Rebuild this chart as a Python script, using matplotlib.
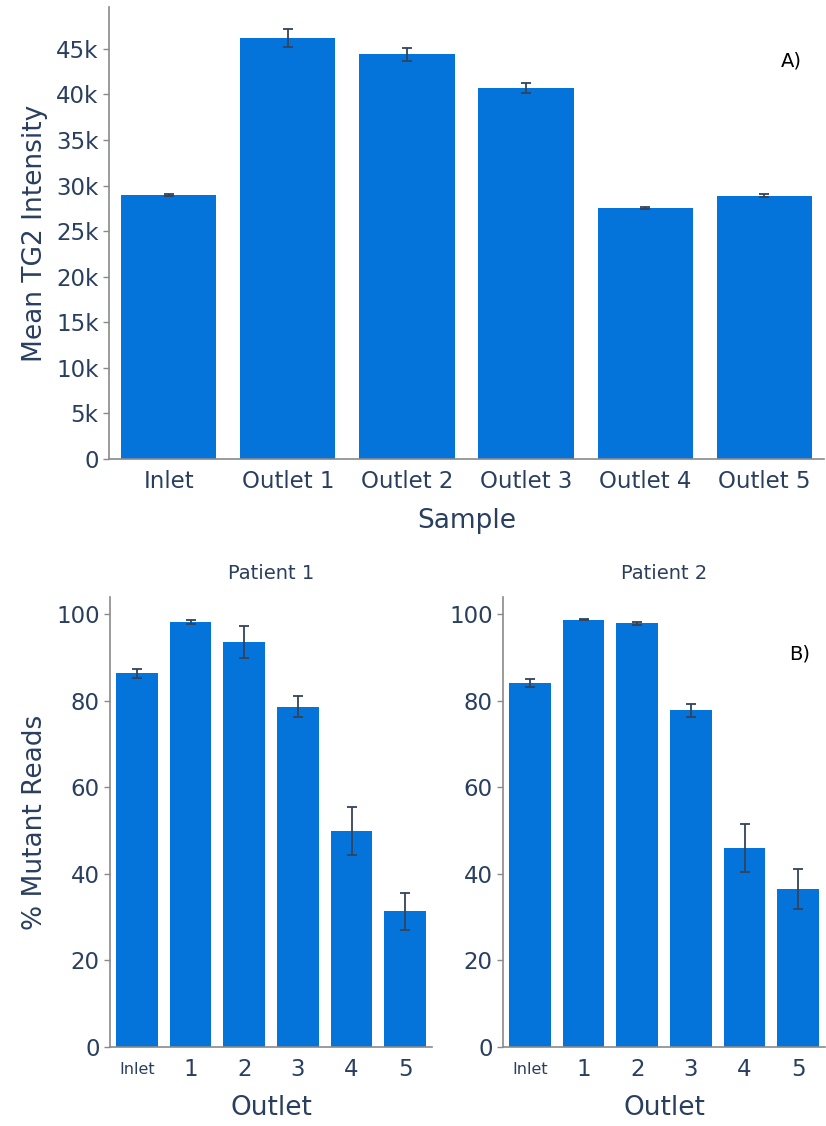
import numpy as np
import matplotlib.pyplot as plt

# ---------- data ----------
samples = ["Inlet", "Outlet 1", "Outlet 2", "Outlet 3", "Outlet 4", "Outlet 5"]
tg2_mean = [29000, 46200, 44400, 40700, 27500, 28900]
tg2_err = [100, 1000, 750, 550, 100, 150]

outlets = ["Inlet", "1", "2", "3", "4", "5"]
p1_mutant = [86.3, 98.1, 93.5, 78.6, 49.8, 31.3]
p1_err = [1.0, 0.5, 3.6, 2.5, 5.5, 4.3]
p2_mutant = [84.1, 98.7, 97.8, 77.8, 46.0, 36.5]
p2_err = [0.9, 0.2, 0.3, 1.5, 5.5, 4.7]

bar_color = "#0474da"
text_color = "#2a3f5f"
err_color = "#34435a"
spine_color = "#8a8a8a"

W, H = 826, 1126
fig = plt.figure(figsize=(W / 100, H / 100), dpi=100)


def style_axes(ax, xpad):
    for s in ["top", "right"]:
        ax.spines[s].set_visible(False)
    for s in ["left", "bottom"]:
        ax.spines[s].set_color(spine_color)
        ax.spines[s].set_linewidth(1.2)
    ax.tick_params(axis="y", colors=spine_color, length=4, width=1, labelcolor=text_color)
    ax.tick_params(axis="x", length=0, labelcolor=text_color, pad=xpad)


def box(l, t, r, b):
    return [l / W, 1 - b / H, (r - l) / W, (b - t) / H]


# ---------- A) ----------
ax = fig.add_axes(box(109, 7, 824, 458.8))
x = np.arange(len(samples))
ax.bar(x, tg2_mean, width=0.8, color=bar_color)
ax.errorbar(x, tg2_mean, yerr=tg2_err, fmt="none", ecolor=err_color,
            elinewidth=1.3, capsize=3.5, capthick=1.3)
ax.set_xlim(-0.5, 5.5)
ax.set_ylim(0, 49600)
ax.set_yticks(np.arange(0, 50000, 5000))
ax.set_yticklabels(["0"] + [f"{v}k" for v in range(5, 50, 5)], fontsize=16.5)
ax.set_xticks(x)
ax.set_xticklabels(samples, fontsize=16.5)
ax.set_xlabel("Sample", fontsize=19, color=text_color, labelpad=11)
ax.set_ylabel("Mean TG2 Intensity", fontsize=19, color=text_color, labelpad=6)
style_axes(ax, 8)
ax.text(0.955, 0.868, "A)", transform=ax.transAxes, fontsize=14, color="black", ha="center")

# ---------- B) ----------
panels = [
    (box(110, 597, 432, 1047), p1_mutant, p1_err, "Patient 1"),
    (box(503, 597, 825, 1047), p2_mutant, p2_err, "Patient 2"),
]
for i, (rect, vals, errs, title) in enumerate(panels):
    ax = fig.add_axes(rect)
    x = np.arange(len(outlets))
    ax.bar(x, vals, width=0.78, color=bar_color)
    ax.errorbar(x, vals, yerr=errs, fmt="none", ecolor=err_color,
                elinewidth=1.3, capsize=3.5, capthick=1.3)
    ax.set_xlim(-0.5, 5.5)
    ax.set_ylim(0, 103.9)
    ax.set_yticks([0, 20, 40, 60, 80, 100])
    ax.tick_params(axis="y", labelsize=16.5)
    ax.set_xticks(x)
    ax.set_xticklabels(outlets, fontsize=16.5, va="center")
    ax.get_xticklabels()[0].set_fontsize(11.5)
    ax.set_xlabel("Outlet", fontsize=19, color=text_color, labelpad=10)
    ax.set_title(title, fontsize=14, color=text_color, pad=13)
    style_axes(ax, 16.5)
    if i == 0:
        ax.set_ylabel("% Mutant Reads", fontsize=19, color=text_color, labelpad=6)
    else:
        ax.text(0.92, 0.86, "B)", transform=ax.transAxes, fontsize=14, color="black", ha="center")

fig.savefig("out.png", dpi=100)
